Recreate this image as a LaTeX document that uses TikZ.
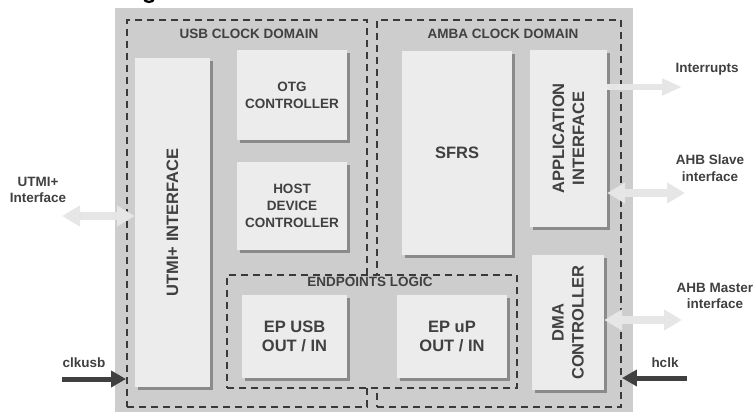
\documentclass[tikz,border=0pt]{standalone}
\usepackage{fontspec}
\setmainfont{Liberation Sans}
\usetikzlibrary{arrows.meta,shadows}
\definecolor{bg}{HTML}{CDCDCD}
\definecolor{blk}{HTML}{ECECEC}
\definecolor{shd}{HTML}{8A8A8A}
\definecolor{txt}{HTML}{404040}
\definecolor{dsh}{HTML}{3A3A3A}
\definecolor{fat}{HTML}{E6E6E6}
\begin{document}
\begin{tikzpicture}[x=1pt,y=-1pt,
  block/.style={fill=blk, draw=none, inner sep=0pt, align=center, text=txt,
    font=\bfseries\fontsize{16.5}{19.5}\selectfont,
    drop shadow={shadow xshift=3pt, shadow yshift=-3pt, fill=shd, opacity=1}},
  smallblock/.style={block, font=\bfseries\fontsize{13.5}{17}\selectfont},
  rottxt/.style={rotate=90, align=center, text=txt, inner sep=0pt,
    font=\bfseries\fontsize{16.5}{20}\selectfont},
  clkdomain/.style={draw=dsh, line width=1.9pt, dash pattern=on 7pt off 5pt,
    inner sep=0pt},
  domlbl/.style={text=txt, inner sep=0pt, font=\bfseries\fontsize{13.5}{16}\selectfont},
  extlbl/.style={text=txt, inner sep=0pt, align=center,
    font=\bfseries\fontsize{13.5}{16.5}\selectfont},
  fatboth/.style={draw=fat, line width=8pt,
    {Triangle[length=18pt,width=20pt]}-{Triangle[length=18pt,width=20pt]}},
  fatone/.style={draw=fat, line width=5.5pt, -{Triangle[length=20pt,width=16pt]}},
  darkarrow/.style={draw=txt, line width=5pt, -{Triangle[length=15pt,width=16pt]}}
]
\useasboundingbox (0,0) rectangle (755,412);
% cut-off fragment of a title glyph at the top edge
\fill[black] (143,-1) .. controls (143,4.5) and (155,4.5) .. (155,-1)
  -- (151.5,-1) .. controls (151.5,1.5) and (146.5,1.5) .. (146.5,-1) -- cycle;
% chip background
\fill[bg] (115,8) rectangle (633,416);
% clock domains
\node[clkdomain, minimum width=240pt, minimum height=387pt] (usbdom) at (247,213.5) {};
\node[clkdomain, minimum width=244pt, minimum height=387pt] (ambadom) at (499,213.5) {};
\node[clkdomain, fill=bg, minimum width=290pt, minimum height=113pt] (epdom) at (372,331.5) {};
\node[domlbl] (usblbl) at (249,34) {USB CLOCK DOMAIN};
\node[domlbl] (ambalbl) at (503,34) {AMBA CLOCK DOMAIN};
\node[domlbl] (eplbl) at (370,282) {ENDPOINTS LOGIC};
% blocks
\node[block, minimum width=75pt, minimum height=329pt] (utmi) at (172.5,222.5) {};
\node[rottxt] (utmitxt) at (utmi.center) {UTMI+ INTERFACE};
\node[smallblock, minimum width=110pt, minimum height=90pt] (otg) at (292,95) {OTG\\CONTROLLER};
\node[smallblock, minimum width=110pt, minimum height=88pt] (host) at (292,206) {HOST\\DEVICE\\CONTROLLER};
\node[block, minimum width=110pt, minimum height=204pt] (sfrs) at (457,153) {SFRS};
\node[block, minimum width=77pt, minimum height=177pt] (app) at (568.5,138.5) {};
\node[rottxt] (apptxt) at (app.center) {APPLICATION\\INTERFACE};
\node[block, minimum width=72pt, minimum height=135pt] (dma) at (568,322.5) {};
\node[rottxt] (dmatxt) at (dma.center) {DMA\\CONTROLLER};
\node[block, minimum width=105pt, minimum height=83pt] (epusb) at (294.5,336.5) {EP USB\\OUT / IN};
\node[block, minimum width=110pt, minimum height=83pt] (epup) at (452,336.5) {EP uP\\OUT / IN};
% external labels
\node[extlbl] (intlbl) at (707,69) {Interrupts};
\node[extlbl] (slvlbl) at (710,168) {AHB Slave\\interface};
\node[extlbl] (mstlbl) at (715,296) {AHB Master\\interface};
\node[extlbl] (utmilbl) at (38,190) {UTMI+\\Interface};
\node[extlbl] (clklbl) at (84,363) {clkusb};
\node[extlbl] (hclklbl) at (665,363) {hclk};
% connectors
\coordinate (utmiL) at (62,216);
\coordinate (intR) at (682,87);
\coordinate (slvR) at (685,193);
\coordinate (mstR) at (682,320);
\coordinate (clkL) at (62,379);
\coordinate (hclkR) at (687,378);
\draw[fatboth] (utmiL) -- (utmiL -| utmi.west);
\draw[fatone] (intR -| app.east) -- (intR);
\draw[fatboth] (slvR -| app.east) -- (slvR);
\draw[fatboth] (mstR -| dma.east) -- (mstR);
\draw[darkarrow] (clkL) -- (clkL -| usbdom.west);
\draw[darkarrow] (hclkR) -- (hclkR -| ambadom.east);
\end{tikzpicture}
\end{document}
